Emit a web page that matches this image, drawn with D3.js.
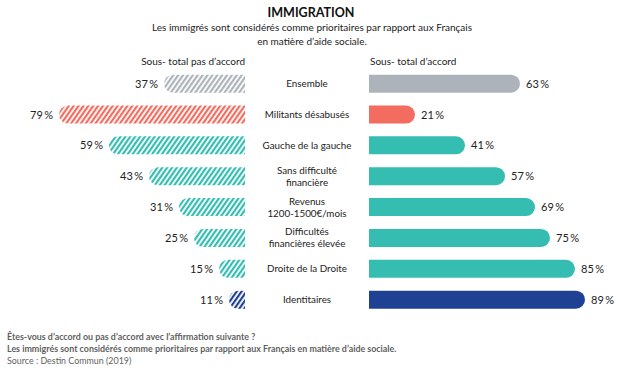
<!DOCTYPE html>
<html>
<head>
<meta charset="utf-8">
<script src="https://cdn.jsdelivr.net/npm/d3@7"></script>
<style>
  body { margin: 0; background: #fff; }
  svg { font-family: Lato, "Open Sans", sans-serif; }
</style>
</head>
<body>
<svg id="chart" width="627" height="375"></svg>
<script>
// data
const categories = [
  ['Ensemble'],
  ['Militants désabusés'],
  ['Gauche de la gauche'],
  ['Sans difficulté', 'financière'],
  ['Revenus', '1200-1500€/mois'],
  ['Difficultés', 'financières élevée'],
  ['Droite de la Droite'],
  ['Identitaires']
];
const disagree = [37, 79, 59, 43, 31, 25, 15, 11];
const agree = [63, 21, 41, 57, 69, 75, 85, 89];
const colors = ['#adb3ba', '#f26c60', '#34bdb0', '#34bdb0', '#34bdb0', '#34bdb0', '#34bdb0', '#1f4193'];
const footer = [
  'Êtes-vous d\u2019accord ou pas d\u2019accord avec l\u2019affirmation suivante ?',
  'Les immigrés sont considérés comme prioritaires par rapport aux Français en matière d\u2019aide sociale.',
  'Source : Destin Commun (2019)'
];

const svg = d3.select('#chart');
const leftEdge = 245, rightEdge = 369;
const barH = 18;

// both sides share an origin hidden behind the label column
const xRight = d3.scaleLinear().domain([0, 100]).range([362.5, 612.5]);
const xLeft = d3.scaleLinear().domain([0, 100]).range([256.5, 6.5]);
const y = d3.scaleBand().domain(d3.range(categories.length)).range([68.5, 315]).paddingInner(0.41).paddingOuter(0.2);

// hatch patterns, one per colour
const defs = svg.append('defs');
Array.from(new Set(colors)).forEach(c => {
  const p = defs.append('pattern')
    .attr('id', 'hatch' + c.slice(1))
    .attr('patternUnits', 'userSpaceOnUse')
    .attr('width', 4).attr('height', 4)
    .attr('patternTransform', 'rotate(35)');
  p.append('rect').attr('width', 4).attr('height', 4).attr('fill', '#fff');
  p.append('rect').attr('width', 2.2).attr('height', 4).attr('fill', c);
});

// title block
svg.append('text').attr('x', 311).attr('y', 17).attr('text-anchor', 'middle')
  .attr('font-size', 12.5).attr('font-weight', 700).attr('fill', '#111').text('IMMIGRATION');
svg.append('text').attr('x', 312).attr('y', 31).attr('text-anchor', 'middle')
  .attr('font-size', 10).attr('fill', '#222')
  .text('Les immigrés sont considérés comme prioritaires par rapport aux Français');
svg.append('text').attr('x', 312).attr('y', 45).attr('text-anchor', 'middle')
  .attr('font-size', 10).attr('fill', '#222').text('en matière d\u2019aide sociale.');
svg.append('text').attr('x', leftEdge).attr('y', 65).attr('text-anchor', 'end')
  .attr('font-size', 10).attr('fill', '#222').text('Sous- total pas d\u2019accord');
svg.append('text').attr('x', rightEdge + 1).attr('y', 65)
  .attr('font-size', 10).attr('fill', '#222').text('Sous- total d\u2019accord');

// rounded on one end only
function barPath(x0, x1, yTop, h) {
  const r = h / 2;
  const p = d3.path();
  if (x1 > x0) {
    p.moveTo(x0, yTop);
    p.lineTo(x1 - r, yTop);
    p.arc(x1 - r, yTop + r, r, -Math.PI / 2, Math.PI / 2);
    p.lineTo(x0, yTop + h);
  } else {
    p.moveTo(x0, yTop);
    p.lineTo(x1 + r, yTop);
    p.arc(x1 + r, yTop + r, r, -Math.PI / 2, Math.PI / 2, true);
    p.lineTo(x0, yTop + h);
  }
  p.closePath();
  return p.toString();
}

const rows = svg.selectAll('g.row').data(categories).join('g').attr('class', 'row');

rows.append('path')
  .attr('d', (d, i) => barPath(leftEdge, xLeft(disagree[i]), y(i), barH))
  .attr('fill', (d, i) => 'url(#hatch' + colors[i].slice(1) + ')');

rows.append('path')
  .attr('d', (d, i) => barPath(rightEdge, xRight(agree[i]), y(i), barH))
  .attr('fill', (d, i) => colors[i]);

rows.append('text')
  .attr('x', (d, i) => xLeft(disagree[i]) - 6)
  .attr('y', (d, i) => y(i) + barH / 2 + 4)
  .attr('text-anchor', 'end').attr('font-size', 11).attr('fill', '#222')
  .text((d, i) => disagree[i] + '\u2009%');

rows.append('text')
  .attr('x', (d, i) => xRight(agree[i]) + 6)
  .attr('y', (d, i) => y(i) + barH / 2 + 4)
  .attr('font-size', 11).attr('fill', '#222')
  .text((d, i) => agree[i] + '\u2009%');

rows.each(function (lines, i) {
  const t = d3.select(this).append('text')
    .attr('text-anchor', 'middle').attr('font-size', 9.8).attr('fill', '#222');
  const cy = y(i) + barH / 2;
  lines.forEach((l, k) => {
    t.append('tspan').attr('x', 307)
      .attr('y', cy + 3.5 + (k - (lines.length - 1) / 2) * 12)
      .text(l);
  });
});

// footer
footer.forEach((l, k) => {
  svg.append('text').attr('x', 7).attr('y', 340 + k * 12)
    .attr('font-size', 8.9).attr('font-weight', k < 2 ? 700 : 400)
    .attr('fill', '#5f5f5f').text(l);
});
</script>
</body>
</html>
